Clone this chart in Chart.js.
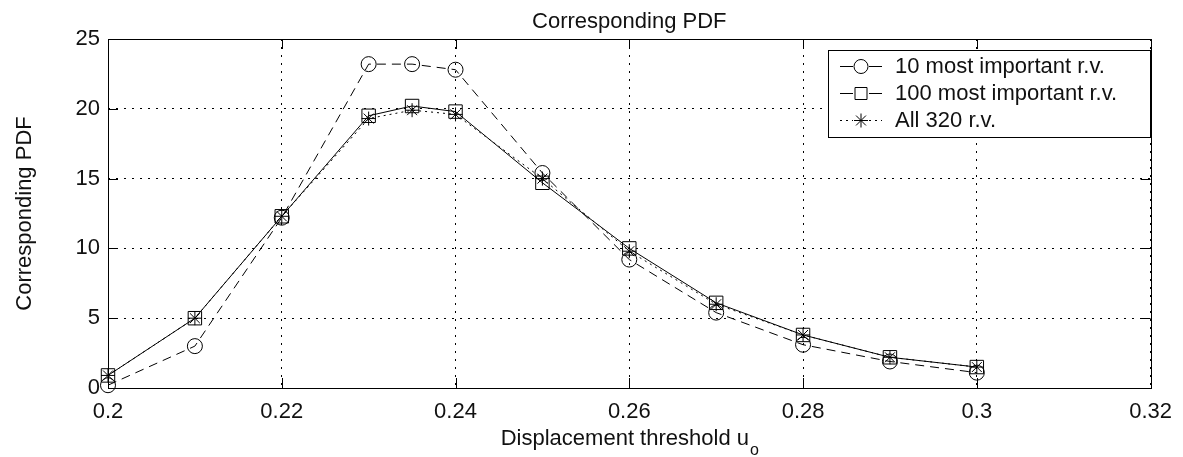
<!DOCTYPE html>
<html>
<head>
<meta charset="utf-8">
<script src="https://cdn.jsdelivr.net/npm/chart.js@4/dist/chart.umd.min.js"></script>
<style>
body { margin: 0; background: #fff; }
#wrap { width: 1183px; height: 457px; }
</style>
</head>
<body>
<div id="wrap"><canvas id="graph"></canvas></div>
<script>
var thresholds = [0.2, 0.21, 0.22, 0.23, 0.235, 0.24, 0.25, 0.26, 0.27, 0.28, 0.29, 0.3];
var pdf10  = [0.2, 3.0, 12.2, 23.2, 23.2, 22.8, 15.4, 9.2, 5.4, 3.1, 1.9, 1.1];
var pdf100 = [0.9, 5.0, 12.3, 19.5, 20.2, 19.8, 14.7, 10.0, 6.1, 3.8, 2.2, 1.5];
var pdfAll = [0.9, 5.0, 12.3, 19.3, 19.9, 19.6, 15.0, 9.8, 6.0, 3.8, 2.2, 1.5];
var seriesNames = ["10 most important r.v.", "100 most important r.v.", "All 320 r.v."];
var xTicks = [0.2, 0.22, 0.24, 0.26, 0.28, 0.3, 0.32];
var yTicks = [0, 5, 10, 15, 20, 25];

var FONT = "'Liberation Sans', Arial, Helvetica, sans-serif";

function toPoints(vals) {
	return thresholds.map(function(x, i) { return {x: x, y: vals[i]}; });
}

// matlab style box, inward ticks, titles and legend
var matlabPlugin = {
	id: 'matlabFrame',
	afterDraw: function(chart) {
		var ctx = chart.ctx;
		var a = chart.chartArea;
		var xs = chart.scales.x, ys = chart.scales.y;
		var tl = 10;
		ctx.save();
		ctx.strokeStyle = '#000';
		ctx.lineWidth = 1;
		ctx.setLineDash([]);
		ctx.strokeRect(Math.round(a.left) + 0.5, Math.round(a.top) + 0.5, Math.round(a.right - a.left), Math.round(a.bottom - a.top));

		ctx.beginPath();
		xTicks.forEach(function(v) {
			var px = Math.round(xs.getPixelForValue(v)) + 0.5;
			ctx.moveTo(px, a.bottom); ctx.lineTo(px, a.bottom - tl);
			ctx.moveTo(px, a.top); ctx.lineTo(px, a.top + tl);
		});
		yTicks.forEach(function(v) {
			var py = Math.round(ys.getPixelForValue(v)) + 0.5;
			ctx.moveTo(a.left, py); ctx.lineTo(a.left + tl, py);
			ctx.moveTo(a.right, py); ctx.lineTo(a.right - tl, py);
		});
		ctx.stroke();

		// titles
		var cx = (a.left + a.right) / 2;
		ctx.fillStyle = '#111';
		ctx.font = "22px " + FONT;
		ctx.textAlign = 'center';
		ctx.textBaseline = 'alphabetic';
		ctx.fillText("Corresponding PDF", cx, 28);

		var main = "Displacement threshold u";
		var mw = ctx.measureText(main).width;
		ctx.font = "16px " + FONT;
		var sw = ctx.measureText("o").width;
		var sx = cx - (mw + sw) / 2;
		ctx.textAlign = 'left';
		ctx.font = "22px " + FONT;
		ctx.fillText(main, sx, 445);
		ctx.font = "16px " + FONT;
		ctx.fillText("o", sx + mw + 1, 455);

		ctx.save();
		ctx.translate(25, (a.top + a.bottom) / 2);
		ctx.rotate(-Math.PI / 2);
		ctx.font = "22px " + FONT;
		ctx.textAlign = 'center';
		ctx.textBaseline = 'middle';
		ctx.fillText("Corresponding PDF", 0, 0);
		ctx.restore();

		// legend
		var lx = 828, ly = 50, lw = 322, lh = 87;
		ctx.fillStyle = '#fff';
		ctx.fillRect(lx, ly, lw, lh);
		ctx.strokeStyle = '#000';
		ctx.strokeRect(lx + 0.5, ly + 0.5, lw, lh);
		var rows = [66, 93, 120];
		var dashes = [[], [], [2, 4]];
		chart.data.datasets.forEach(function(ds, i) {
			var y = rows[i] + 0.5;
			var mx = 861;
			ctx.strokeStyle = '#000';
			ctx.lineWidth = 1;
			ctx.setLineDash(dashes[i]);
			ctx.beginPath();
			ctx.moveTo(840, y); ctx.lineTo(mx - 8, y);
			ctx.moveTo(mx + 8, y); ctx.lineTo(882, y);
			ctx.stroke();
			ctx.setLineDash([]);
			ctx.beginPath();
			if (ds.pointStyle === 'circle') {
				ctx.arc(mx, y, 7, 0, Math.PI * 2);
			} else if (ds.pointStyle === 'rect') {
				ctx.rect(mx - 6, y - 6, 12, 12);
			} else {
				for (var k = 0; k < 4; k++) {
					var ang = k * Math.PI / 4;
					ctx.moveTo(mx - 7 * Math.cos(ang), y - 7 * Math.sin(ang));
					ctx.lineTo(mx + 7 * Math.cos(ang), y + 7 * Math.sin(ang));
				}
			}
			ctx.stroke();
			ctx.fillStyle = '#111';
			ctx.font = "22px " + FONT;
			ctx.textAlign = 'left';
			ctx.textBaseline = 'middle';
			ctx.fillText(ds.label, 895, rows[i] + 1);
		});
		ctx.restore();
	}
};

var ctx = document.getElementById("graph").getContext("2d");
var myChart = new Chart(ctx, {
	type: 'line',
	data: {
		datasets: [
			{
				label: seriesNames[0],
				data: toPoints(pdf10),
				borderColor: '#000',
				borderWidth: 1,
				borderDash: [9, 6],
				pointStyle: 'circle',
				pointRadius: 7.5,
				pointBorderWidth: 1,
				pointBorderColor: '#000',
				pointBackgroundColor: 'rgba(0,0,0,0)',
				fill: false,
				tension: 0,
				clip: false
			},
			{
				label: seriesNames[1],
				data: toPoints(pdf100),
				borderColor: '#000',
				borderWidth: 1,
				pointStyle: 'rect',
				pointRadius: 9.5,
				pointBorderWidth: 1,
				pointBorderColor: '#000',
				pointBackgroundColor: 'rgba(0,0,0,0)',
				fill: false,
				tension: 0,
				clip: false
			},
			{
				label: seriesNames[2],
				data: toPoints(pdfAll),
				borderColor: '#000',
				borderWidth: 1,
				borderDash: [2, 4],
				pointStyle: 'star',
				pointRadius: 7,
				pointBorderWidth: 1,
				pointBorderColor: '#000',
				pointBackgroundColor: 'rgba(0,0,0,0)',
				fill: false,
				tension: 0,
				clip: false
			}
		]
	},
	options: {
		responsive: true,
		maintainAspectRatio: false,
		animation: false,
		layout: { padding: { top: 39, right: 25, left: 0, bottom: 0 } },
		plugins: {
			legend: { display: false },
			title: { display: false },
			tooltip: { enabled: false }
		},
		scales: {
			x: {
				type: 'linear',
				min: 0.2,
				max: 0.32,
				afterFit: function(s) { s.height = 69; },
				afterBuildTicks: function(s) { s.ticks = xTicks.map(function(v) { return {value: v}; }); },
				grid: { color: '#000', lineWidth: 1, drawTicks: false },
				border: { display: false, dash: [2, 6] },
				ticks: {
					color: '#111',
					padding: 11,
					maxRotation: 0,
					font: { family: FONT, size: 22 },
					callback: function(v) { return String(Number(v.toFixed(2))); }
				}
			},
			y: {
				min: 0,
				max: 25,
				afterFit: function(s) { s.width = 108; },
				afterBuildTicks: function(s) { s.ticks = yTicks.map(function(v) { return {value: v}; }); },
				grid: { color: '#000', lineWidth: 1, drawTicks: false },
				border: { display: false, dash: [2, 6] },
				ticks: {
					color: '#111',
					padding: 8,
					font: { family: FONT, size: 22 }
				}
			}
		}
	},
	plugins: [matlabPlugin]
});
</script>
</body>
</html>
